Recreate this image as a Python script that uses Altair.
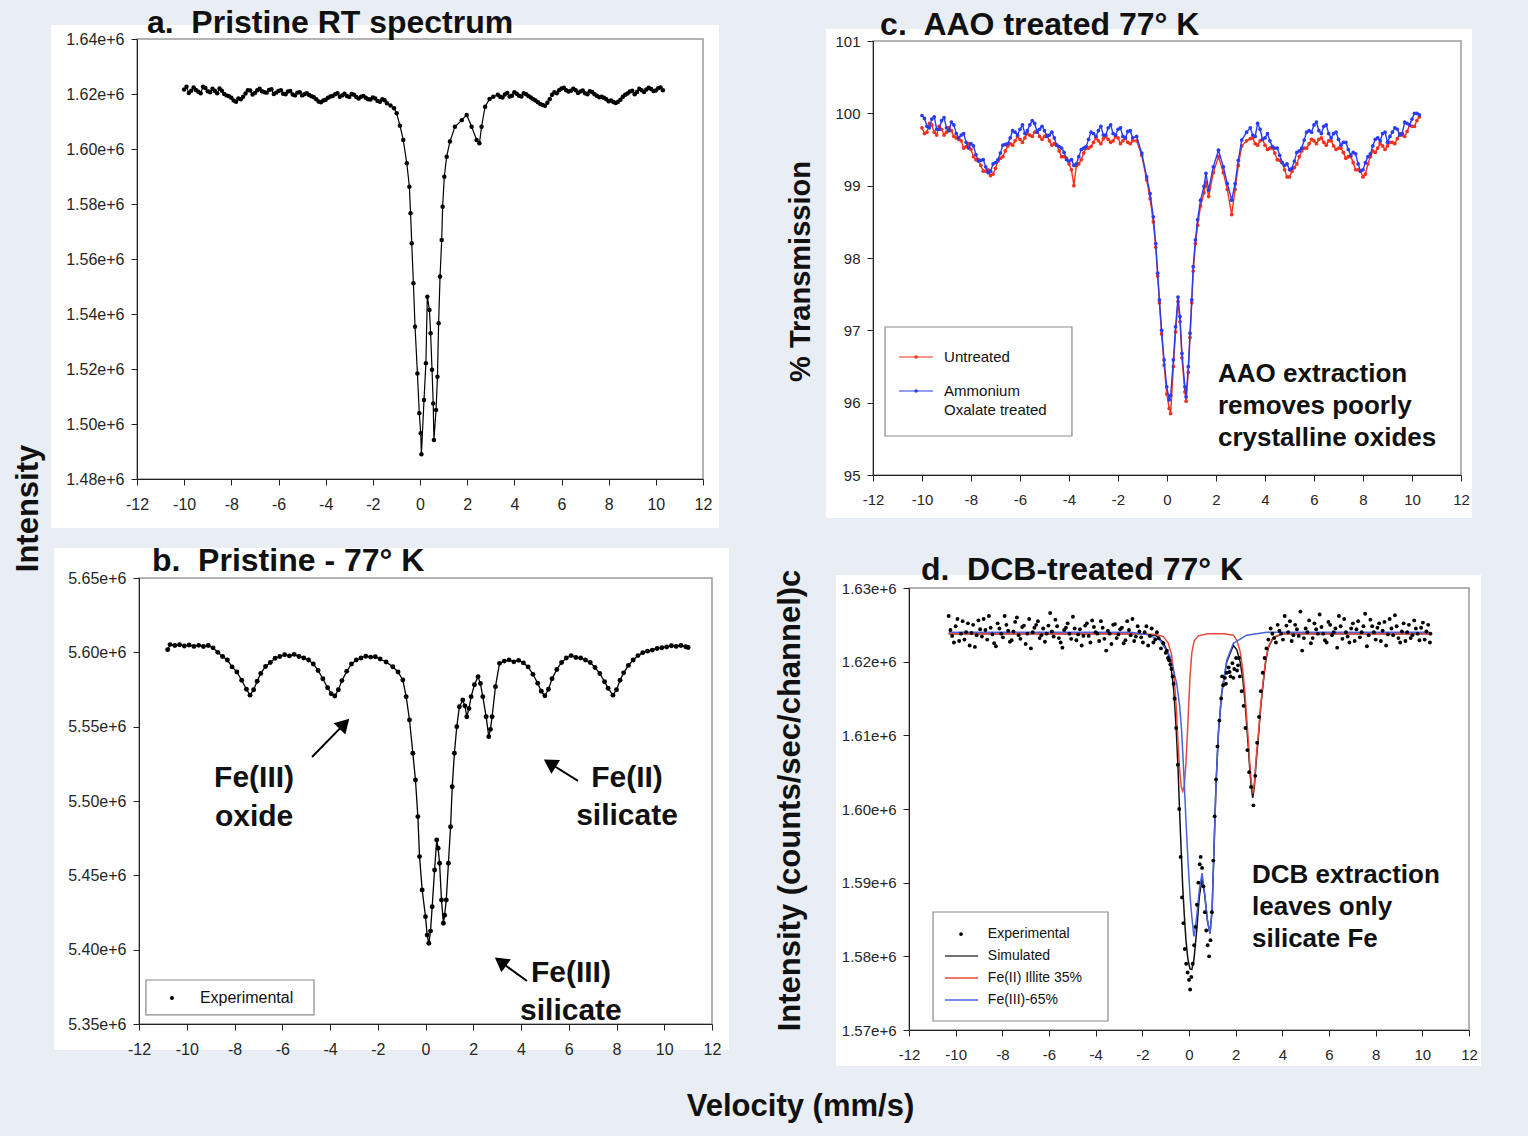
import altair as alt
import pandas as pd

FONT = "Liberation Sans"
BG = "#e9eef5"
CW, CH = 764, 568
TICKS_V = [-12, -10, -8, -6, -4, -2, 0, 2, 4, 6, 8, 10, 12]

# ---------------- data (velocity mm/s, intensity in 1e6 counts) ----------------
A_PTS = [(-10.0,1.6216),(-9.8,1.6204),(-9.6,1.6224),(-9.4,1.6208),(-9.2,1.6226),(-9.0,1.6210),(-8.8,1.6219),
         (-8.6,1.6203),(-8.4,1.6212),(-8.2,1.6195),(-8.0,1.6186),(-7.8,1.6172),(-7.6,1.6181),(-7.4,1.6202),
         (-7.2,1.6213),(-7.0,1.6204),(-6.8,1.6219),(-6.6,1.6206),(-6.4,1.6215),(-6.2,1.6200),(-6.0,1.6211),
         (-5.8,1.6201),(-5.6,1.6209),(-5.4,1.6198),(-5.2,1.6205),(-5.0,1.6195),(-4.8,1.6203),(-4.6,1.6192),
         (-4.4,1.6181),(-4.2,1.6170),(-4.0,1.6179),(-3.8,1.6191),(-3.6,1.6199),(-3.4,1.6190),(-3.2,1.6201),
         (-3.0,1.6189),(-2.8,1.6197),(-2.6,1.6184),(-2.4,1.6193),(-2.2,1.6181),(-2.0,1.6187),(-1.8,1.6175),
         (-1.6,1.6181),(-1.4,1.6166),(-1.25,1.6158),(-1.1,1.6148),(-0.99,1.6130),(-0.85,1.6085),(-0.71,1.6033),
         (-0.56,1.5948),(-0.45,1.5863),(-0.40,1.5766),(-0.35,1.5657),(-0.28,1.5512),(-0.21,1.5354),(-0.11,1.5184),
         (-0.03,1.5039),(0.03,1.4966),(0.06,1.4890),(0.17,1.5087),(0.25,1.5221),(0.31,1.5463),(0.40,1.5415),
         (0.45,1.5330),(0.51,1.5197),(0.56,1.5075),(0.59,1.4942),(0.68,1.5051),(0.74,1.5172),(0.79,1.5366),
         (0.85,1.5536),(0.92,1.5669),(0.96,1.5790),(1.03,1.5899),(1.13,1.5972),(1.27,1.6027),(1.48,1.6081),
         (1.77,1.6105),(1.98,1.6124),(2.19,1.6081),(2.40,1.6033),(2.52,1.6021),(2.61,1.6081),(2.76,1.6154),
         (2.95,1.6182),(3.11,1.6190),(3.3,1.6197),(3.5,1.6187),(3.7,1.6204),(3.9,1.6194),(4.1,1.6201),
         (4.3,1.6191),(4.5,1.6199),(4.7,1.6187),(4.9,1.6176),(5.1,1.6164),(5.3,1.6157),(5.5,1.6181),
         (5.7,1.6206),(5.9,1.6214),(6.1,1.6223),(6.3,1.6209),(6.5,1.6219),(6.7,1.6204),(6.9,1.6213),
         (7.1,1.6199),(7.3,1.6207),(7.5,1.6194),(7.7,1.6190),(7.9,1.6181),(8.1,1.6176),(8.3,1.6167),
         (8.5,1.6179),(8.7,1.6197),(8.9,1.6209),(9.1,1.6199),(9.3,1.6219),(9.5,1.6207),(9.7,1.6223),
         (9.9,1.6211),(10.1,1.6221),(10.3,1.6214)]
A_PTS_EXTRA = [(-9.9,1.6226),(-9.7,1.6212),(-9.5,1.6215),(-9.3,1.6203),(-9.1,1.6222),(-8.9,1.6206),(-8.7,1.6212),
               (-8.5,1.6220),(-8.3,1.6200),(-8.1,1.6192),(-7.9,1.6176),(-7.7,1.6184),(-7.5,1.6190),(-7.3,1.6214),
               (-7.1,1.6198),(-6.9,1.6214),(-6.7,1.6210),(-6.5,1.6205),(-6.3,1.6217),(-6.1,1.6205),(-5.9,1.6214),
               (-5.7,1.6199),(-5.5,1.6211),(-5.3,1.6195),(-5.1,1.6206),(-4.9,1.6199),(-4.7,1.6196),(-4.5,1.6188),
               (-4.3,1.6173),(-4.1,1.6176),(-3.9,1.6186),(-3.7,1.6193),(-3.5,1.6203),(-3.3,1.6195),(-3.1,1.6193),
               (-2.9,1.6200),(-2.7,1.6189),(-2.5,1.6190),(-2.3,1.6186),(-2.1,1.6180),(-1.9,1.6184),(-1.7,1.6172),
               (-1.5,1.6177),(3.4,1.6190),(3.6,1.6198),(3.8,1.6191),(4.0,1.6206),(4.2,1.6194),(4.4,1.6203),
               (4.6,1.6193),(4.8,1.6181),(5.0,1.6170),(5.2,1.6160),(5.4,1.6168),(5.6,1.6197),(5.8,1.6203),
               (6.0,1.6220),(6.2,1.6214),(6.4,1.6212),(6.6,1.6214),(6.8,1.6209),(7.0,1.6203),(7.2,1.6210),
               (7.4,1.6199),(7.6,1.6188),(7.8,1.6186),(8.0,1.6174),(8.2,1.6171),(8.4,1.6172),(8.6,1.6190),
               (8.8,1.6202),(9.0,1.6212),(9.2,1.6207),(9.4,1.6214),(9.6,1.6216),(9.8,1.6218),(10.0,1.6213),
               (10.2,1.6224)]

B_PTS = [(-10.8,5.6018),(-10.7,5.6052),(-10.5,5.6046),(-10.3,5.6051),(-10.1,5.6043),(-9.9,5.6049),(-9.7,5.6040),
         (-9.5,5.6047),(-9.3,5.6039),(-9.1,5.6046),(-8.9,5.6030),(-8.7,5.6000),(-8.5,5.5972),(-8.3,5.5948),
         (-8.1,5.5902),(-7.9,5.5868),(-7.7,5.5812),(-7.5,5.5752),(-7.35,5.5712),(-7.2,5.5748),(-7.05,5.5805),
         (-6.9,5.5858),(-6.7,5.5905),(-6.5,5.5932),(-6.3,5.5960),(-6.1,5.5972),(-5.9,5.5984),(-5.7,5.5976),
         (-5.5,5.5986),(-5.3,5.5972),(-5.1,5.5962),(-4.9,5.5948),(-4.7,5.5922),(-4.5,5.5878),(-4.3,5.5822),
         (-4.1,5.5762),(-3.95,5.5722),(-3.8,5.5706),(-3.65,5.5748),(-3.5,5.5810),(-3.3,5.5872),(-3.1,5.5922),
         (-2.9,5.5948),(-2.7,5.5962),(-2.5,5.5974),(-2.3,5.5968),(-2.1,5.5970),(-1.9,5.5955),(-1.65,5.5935),
         (-1.37,5.5903),(-1.15,5.5868),(-0.95,5.5814),(-0.81,5.5702),(-0.67,5.5545),(-0.53,5.5321),(-0.42,5.5141),
         (-0.32,5.4895),(-0.25,5.4626),(-0.14,5.4402),(0.0,5.4222),(0.07,5.4098),(0.14,5.4043),(0.21,5.4125),
         (0.28,5.4289),(0.38,5.4536),(0.47,5.4738),(0.53,5.4682),(0.59,5.4581),(0.67,5.4334),(0.75,5.4178),
         (0.80,5.4232),(0.87,5.4334),(0.96,5.4581),(1.05,5.4827),(1.12,5.5096),(1.21,5.5321),(1.31,5.5500),
         (1.42,5.5634),(1.56,5.5679),(1.65,5.5640),(1.73,5.5567),(1.82,5.5622),(1.91,5.5702),(2.05,5.5782),
         (2.20,5.5836),(2.30,5.5790),(2.40,5.5702),(2.54,5.5567),(2.65,5.5433),(2.72,5.5482),(2.79,5.5567),
         (2.93,5.5769),(3.10,5.5926),(3.3,5.5941),(3.5,5.5949),(3.7,5.5936),(3.9,5.5946),(4.1,5.5929),
         (4.3,5.5902),(4.5,5.5852),(4.7,5.5792),(4.85,5.5738),(5.0,5.5708),(5.15,5.5752),(5.3,5.5822),
         (5.5,5.5885),(5.7,5.5932),(5.9,5.5962),(6.1,5.5978),(6.3,5.5965),(6.5,5.5962),(6.7,5.5948),
         (6.9,5.5932),(7.1,5.5898),(7.3,5.5858),(7.5,5.5802),(7.65,5.5758),(7.85,5.5712),(8.0,5.5748),
         (8.15,5.5812),(8.3,5.5862),(8.5,5.5912),(8.7,5.5948),(8.9,5.5978),(9.1,5.5998),(9.3,5.6008),
         (9.5,5.6015),(9.7,5.6026),(9.9,5.6031),(10.1,5.6036),(10.3,5.6044),(10.5,5.6040),(10.7,5.6046),
         (10.9,5.6038),(11.0,5.6033)]

C_V = [-10.0,-9.8,-9.6,-9.4,-9.2,-9.0,-8.8,-8.6,-8.4,-8.2,-8.0,-7.8,-7.6,-7.4,-7.2,-7.0,-6.8,-6.6,-6.4,-6.2,
       -6.0,-5.8,-5.6,-5.4,-5.2,-5.0,-4.8,-4.6,-4.4,-4.2,-4.0,-3.8,-3.6,-3.4,-3.2,-3.0,-2.8,-2.6,-2.4,-2.2,
       -2.0,-1.8,-1.6,-1.4,-1.24,-1.03,-0.83,-0.69,-0.56,-0.46,-0.38,-0.31,-0.22,-0.12,-0.01,0.09,0.15,0.26,
       0.35,0.45,0.53,0.61,0.73,0.78,0.87,0.94,1.01,1.07,1.16,1.25,1.37,1.51,1.59,1.70,1.89,2.10,2.30,2.46,
       2.64,2.78,2.91,3.05,3.25,3.4,3.6,3.8,4.0,4.2,4.4,4.6,4.8,5.0,5.2,5.4,5.6,5.8,6.0,6.2,6.4,6.6,6.8,
       7.0,7.2,7.4,7.6,7.8,8.0,8.2,8.4,8.6,8.8,9.0,9.2,9.4,9.6,9.8,10.0,10.2,10.3,
       -9.9,-9.7,-9.5,-9.3,-9.1,-8.9,-8.7,-8.5,-8.3,-8.1,-7.9,-7.7,-7.5,-7.3,-7.1,-6.9,-6.7,-6.5,-6.3,-6.1,
       -5.9,-5.7,-5.5,-5.3,-5.1,-4.9,-4.7,-4.5,-4.3,-4.1,-3.9,-3.7,-3.5,-3.3,-3.1,-2.9,-2.7,-2.5,-2.3,-2.1,
       -1.9,-1.7,-1.5,3.5,3.7,3.9,4.1,4.3,4.5,4.7,4.9,5.1,5.3,5.5,5.7,5.9,6.1,6.3,6.5,6.7,6.9,7.1,7.3,7.5,
       7.7,7.9,8.1,8.3,8.5,8.7,8.9,9.1,9.3,9.5,9.7,9.9,10.1]
C_OXALATE = [99.97,99.82,99.92,99.78,99.90,99.80,99.88,99.72,99.70,99.60,99.58,99.43,99.35,99.26,99.20,99.32,
             99.45,99.57,99.66,99.74,99.78,99.72,99.84,99.86,99.78,99.76,99.70,99.66,99.54,99.46,99.34,99.28,
             99.40,99.52,99.64,99.72,99.76,99.70,99.80,99.72,99.78,99.68,99.75,99.66,99.68,99.45,99.12,98.89,
             98.57,98.20,97.79,97.42,97.00,96.59,96.22,96.04,96.10,96.59,97.05,97.46,97.19,96.68,96.22,96.08,
             96.50,96.96,97.42,97.88,98.25,98.53,98.80,98.99,99.17,98.94,99.26,99.49,99.26,99.03,98.80,99.03,
             99.35,99.63,99.74,99.80,99.68,99.78,99.66,99.62,99.52,99.42,99.28,99.22,99.34,99.48,99.63,99.76,
             99.84,99.76,99.82,99.72,99.72,99.64,99.60,99.50,99.46,99.30,99.22,99.40,99.55,99.66,99.72,99.60,
             99.74,99.78,99.72,99.86,99.92,100.00,99.98,
             99.93,99.80,99.95,99.78,99.94,99.76,99.84,99.66,99.72,99.52,99.55,99.34,99.36,99.18,99.30,99.36,
             99.56,99.58,99.76,99.70,99.84,99.76,99.90,99.74,99.82,99.68,99.74,99.56,99.52,99.36,99.36,99.30,
             99.50,99.54,99.74,99.68,99.82,99.70,99.84,99.70,99.80,99.66,99.76,99.70,99.86,99.64,99.72,99.54,
             99.52,99.32,99.30,99.24,99.46,99.52,99.74,99.74,99.88,99.72,99.84,99.66,99.74,99.56,99.60,99.42,
             99.44,99.20,99.32,99.44,99.64,99.62,99.74,99.68,99.80,99.70,99.88,99.84,100.00]
C_UNTREATED = [99.80,99.74,99.84,99.70,99.78,99.74,99.76,99.66,99.62,99.54,99.50,99.36,99.28,99.20,99.14,99.24,
               99.38,99.48,99.58,99.62,99.64,99.66,99.70,99.74,99.68,99.68,99.62,99.58,99.48,99.40,99.30,99.00,
               99.30,99.45,99.52,99.60,99.62,99.65,99.64,99.62,99.66,99.62,99.60,99.62,99.62,99.42,99.08,98.82,
               98.50,98.15,97.75,97.38,96.95,96.52,96.12,95.92,95.85,96.50,96.98,97.40,97.12,96.62,96.15,96.02,
               96.42,96.90,97.38,97.82,98.20,98.45,98.72,98.90,99.05,98.85,99.18,99.40,99.18,98.95,98.60,98.95,
               99.28,99.55,99.62,99.65,99.58,99.62,99.56,99.52,99.45,99.35,99.22,99.12,99.25,99.40,99.52,99.58,
               99.62,99.64,99.60,99.62,99.55,99.52,99.46,99.40,99.32,99.22,99.12,99.30,99.48,99.52,99.55,99.55,
               99.60,99.65,99.70,99.75,99.82,99.90,99.95,
               99.72,99.86,99.74,99.82,99.70,99.80,99.68,99.64,99.52,99.58,99.40,99.36,99.20,99.22,99.16,99.34,
               99.40,99.55,99.56,99.68,99.60,99.72,99.68,99.76,99.64,99.70,99.56,99.56,99.40,99.38,99.22,99.28,
               99.36,99.52,99.54,99.66,99.58,99.68,99.60,99.68,99.58,99.66,99.58,99.66,99.56,99.64,99.50,99.52,
               99.36,99.32,99.12,99.20,99.30,99.48,99.52,99.64,99.58,99.66,99.56,99.62,99.50,99.52,99.38,99.40,
               99.22,99.20,99.16,99.40,99.46,99.58,99.50,99.60,99.58,99.72,99.68,99.84,99.82]

D_EXP = [(-10.30,1.6262),(-10.15,1.6235),(-10.00,1.6248),(-9.85,1.6228),(-9.70,1.6255),(-9.55,1.6240),(-9.40,1.6222),
         (-9.25,1.6250),(-9.10,1.6236),(-8.95,1.6244),(-8.80,1.6258),(-8.65,1.6230),(-8.50,1.6246),(-8.35,1.6225),
         (-8.20,1.6252),(-8.05,1.6238),(-7.90,1.6262),(-7.75,1.6242),(-7.60,1.6229),(-7.45,1.6254),(-7.30,1.6236),
         (-7.15,1.6247),(-7.00,1.6224),(-6.85,1.6258),(-6.70,1.6240),(-6.55,1.6250),(-6.40,1.6232),(-6.25,1.6245),
         (-6.10,1.6238),(-5.95,1.6266),(-5.80,1.6234),(-5.65,1.6248),(-5.50,1.6226),(-5.35,1.6243),(-5.20,1.6252),
         (-5.05,1.6231),(-4.90,1.6245),(-4.75,1.6237),(-4.60,1.6222),(-4.45,1.6249),(-4.30,1.6235),(-4.15,1.6256),
         (-4.00,1.6240),(-3.85,1.6228),(-3.70,1.6246),(-3.55,1.6215),(-3.40,1.6238),(-3.25,1.6250),(-3.10,1.6232),
         (-2.95,1.6244),(-2.80,1.6225),(-2.65,1.6255),(-2.50,1.6236),(-2.35,1.6228),(-2.20,1.6248),(-2.05,1.6233),
         (-1.90,1.6240),(-1.75,1.6222),(-1.60,1.6245),(-1.45,1.6230),(-1.3,1.6232),(-1.2,1.6218),(-1.1,1.6225),
         (-1.0,1.6212),(-0.9,1.6205),(-0.8,1.6196),(-0.7,1.6180),(-0.62,1.6150),(-0.55,1.6110),(-0.48,1.6060),
         (-0.42,1.6000),(-0.36,1.5935),(-0.30,1.5880),(-0.24,1.5845),(-0.18,1.5810),(-0.12,1.5790),(-0.06,1.5778),
         (0.0,1.5768),(0.05,1.5755),(0.10,1.5772),(0.16,1.5790),(0.22,1.5815),(0.28,1.5840),(0.34,1.5870),
         (0.40,1.5900),(0.46,1.5925),(0.50,1.5935),(0.56,1.5920),(0.62,1.5895),(0.68,1.5860),(0.74,1.5835),
         (0.80,1.5815),(0.86,1.5800),(0.92,1.5822),(0.98,1.5860),(1.04,1.5930),(1.10,1.5990),(1.16,1.6040),
         (1.22,1.6085),(1.30,1.6120),(1.38,1.6150),(1.46,1.6168),(1.54,1.6178),(1.62,1.6185),(1.70,1.6192),
         (1.78,1.6180),(1.86,1.6198),(1.94,1.6190),(2.02,1.6205),(2.10,1.6195),(2.18,1.6180),(2.26,1.6160),
         (2.34,1.6140),(2.42,1.6110),(2.50,1.6080),(2.58,1.6050),(2.66,1.6030),(2.76,1.6005),(2.84,1.6045),
         (2.92,1.6090),(3.00,1.6125),(3.08,1.6160),(3.16,1.6185),(3.24,1.6205),(3.32,1.6218),(3.40,1.6230),
         (3.5,1.6245),(3.65,1.6232),(3.80,1.6250),(3.95,1.6238),(4.10,1.6262),(4.25,1.6240),(4.40,1.6228),
         (4.55,1.6250),(4.70,1.6235),(4.85,1.6215),(5.00,1.6245),(5.15,1.6256),(5.30,1.6232),(5.45,1.6244),
         (5.60,1.6264),(5.75,1.6238),(5.90,1.6226),(6.05,1.6250),(6.20,1.6240),(6.35,1.6219),(6.50,1.6248),
         (6.65,1.6258),(6.80,1.6234),(6.95,1.6245),(7.10,1.6228),(7.25,1.6255),(7.40,1.6240),(7.55,1.6265),
         (7.70,1.6236),(7.85,1.6248),(8.00,1.6230),(8.15,1.6252),(8.30,1.6242),(8.45,1.6222),(8.60,1.6258),
         (8.75,1.6236),(8.90,1.6248),(9.05,1.6226),(9.20,1.6252),(9.35,1.6240),(9.50,1.6232),(9.65,1.6256),
         (9.80,1.6238),(9.95,1.6246),(10.10,1.6230),(10.25,1.6250),(10.35,1.6238)]
D_EXP_EXTRA = [(-10.225,1.6243),(-10.075,1.6226),(-9.925,1.6258),(-9.775,1.6238),(-9.625,1.6230),(-9.475,1.6252),
               (-9.325,1.6239),(-9.175,1.6220),(-9.025,1.6256),(-8.875,1.6234),(-8.725,1.6243),(-8.575,1.6262),
               (-8.425,1.6237),(-8.275,1.6221),(-8.125,1.6245),(-7.975,1.6233),(-7.825,1.6250),(-7.675,1.6227),
               (-7.525,1.6241),(-7.375,1.6260),(-7.225,1.6231),(-7.075,1.6249),(-6.925,1.6238),(-6.775,1.6218),
               (-6.625,1.6246),(-6.475,1.6255),(-6.325,1.6236),(-6.175,1.6227),(-6.025,1.6249),(-5.875,1.6241),
               (-5.725,1.6257),(-5.575,1.6232),(-5.425,1.6219),(-5.275,1.6246),(-5.125,1.6238),(-4.975,1.6261),
               (-4.825,1.6229),(-4.675,1.6244),(-4.525,1.6235),(-4.375,1.6252),(-4.225,1.6226),(-4.075,1.6247),
               (-3.925,1.6238),(-3.775,1.6255),(-3.625,1.6231),(-3.475,1.6242),(-3.325,1.6224),(-3.175,1.6251),
               (-3.025,1.6237),(-2.875,1.6246),(-2.725,1.6229),(-2.575,1.6243),(-2.425,1.6258),(-2.275,1.6234),
               (-2.125,1.6241),(-1.975,1.6226),(-1.825,1.6248),(-1.675,1.6235),(-1.525,1.6226),(-1.375,1.6240),
               (-0.95,1.6215),(-0.85,1.6202),(-0.75,1.6190),(-0.66,1.6170),(1.42,1.6180),(1.58,1.6170),
               (1.74,1.6186),(1.90,1.6178),(2.06,1.6188),(2.14,1.6205),
               (3.575,1.6238),(3.725,1.6226),(3.875,1.6242),(4.025,1.6230),(4.175,1.6249),(4.325,1.6255),
               (4.475,1.6236),(4.625,1.6244),(4.775,1.6268),(4.925,1.6232),(5.075,1.6240),(5.225,1.6225),
               (5.375,1.6252),(5.525,1.6238),(5.675,1.6247),(5.825,1.6229),(5.975,1.6254),(6.125,1.6236),
               (6.275,1.6245),(6.425,1.6262),(6.575,1.6231),(6.725,1.6240),(6.875,1.6226),(7.025,1.6252),
               (7.175,1.6244),(7.325,1.6233),(7.475,1.6248),(7.625,1.6221),(7.775,1.6257),(7.925,1.6240),
               (8.075,1.6246),(8.225,1.6228),(8.375,1.6254),(8.525,1.6237),(8.675,1.6245),(8.825,1.6263),
               (8.975,1.6232),(9.125,1.6241),(9.275,1.6228),(9.425,1.6250),(9.575,1.6236),(9.725,1.6245),
               (9.875,1.6229),(10.025,1.6253),(10.175,1.6241),(10.325,1.6226)]
D_SIM = [(-10.3,1.6238),(-2.0,1.6238),(-1.4,1.6235),(-1.1,1.6226),(-0.9,1.6212),(-0.75,1.6188),(-0.65,1.6160),
         (-0.55,1.6110),(-0.47,1.6055),(-0.40,1.5995),(-0.33,1.5940),(-0.27,1.5895),(-0.20,1.5855),(-0.13,1.5822),
         (-0.05,1.5797),(0.04,1.5783),(0.12,1.5782),(0.21,1.5795),(0.33,1.5835),(0.44,1.5880),(0.56,1.5906),
         (0.67,1.5884),(0.79,1.5848),(0.90,1.5831),(0.99,1.5863),(1.07,1.5944),(1.16,1.6035),(1.26,1.6103),
         (1.40,1.6157),(1.62,1.6200),(1.90,1.6222),(2.05,1.6216),(2.19,1.6200),(2.30,1.6178),(2.40,1.6146),
         (2.48,1.6110),(2.54,1.6085),(2.60,1.6056),(2.66,1.6033),(2.73,1.6015),(2.80,1.6030),(2.88,1.6065),
         (2.97,1.6096),(3.07,1.6137),(3.18,1.6171),(3.29,1.6201),(3.40,1.6219),(3.6,1.6232),(4.0,1.6238),
         (10.3,1.6238)]
D_FE2 = [(-10.3,1.6238),(-2.0,1.6238),(-1.4,1.6237),(-1.1,1.6234),(-0.9,1.6226),(-0.75,1.6210),(-0.65,1.6185),
         (-0.55,1.6140),(-0.47,1.6090),(-0.40,1.6052),(-0.33,1.6030),(-0.27,1.6024),(-0.20,1.6032),(-0.13,1.6062),
         (-0.05,1.6115),(0.04,1.6178),(0.12,1.6212),(0.22,1.6228),(0.4,1.6235),(0.8,1.6238),(1.5,1.6238),
         (1.9,1.6236),(2.05,1.6229),(2.19,1.6214),(2.30,1.6190),(2.40,1.6157),(2.48,1.6120),(2.54,1.6094),
         (2.60,1.6064),(2.66,1.6040),(2.73,1.6021),(2.80,1.6035),(2.88,1.6070),(2.97,1.6100),(3.07,1.6140),
         (3.18,1.6174),(3.29,1.6203),(3.40,1.6220),(3.6,1.6233),(4.0,1.6238),(10.3,1.6238)]
D_FE3 = [(-10.3,1.6240),(-2.5,1.6240),(-1.8,1.6237),(-1.24,1.6229),(-0.81,1.6207),(-0.53,1.6171),(-0.40,1.6140),
         (-0.31,1.6103),(-0.24,1.6060),(-0.17,1.6012),(-0.10,1.5965),(-0.03,1.5922),(0.05,1.5880),(0.12,1.5854),
         (0.21,1.5827),(0.27,1.5838),(0.33,1.5854),(0.44,1.5890),(0.56,1.5913),(0.67,1.5886),(0.79,1.5849),
         (0.90,1.5831),(0.99,1.5863),(1.07,1.5944),(1.16,1.6035),(1.26,1.6103),(1.40,1.6157),(1.62,1.6202),
         (1.90,1.6225),(2.47,1.6236),(3.33,1.6240),(10.3,1.6240)]

# panel titles / annotations (positions in data units of each panel)
TITLES = {"a": ("a.\u00a0 Pristine RT spectrum", -11.58, 1.6458),
          "b": ("b.\u00a0 Pristine - 77\u00b0 K", -11.46, 5.6614),
          "c": ("c.\u00a0 AAO treated 77\u00b0 K", -11.71, 101.221),
          "d": ("d.\u00a0 DCB-treated 77\u00b0 K", -11.49, 1.63244)}
B_NOTE_T = ["Fe(III)", "oxide", "Fe(II)", "silicate", "Fe(III)", "silicate"]
B_NOTE_V = [-7.18, -7.18, 8.44, 8.44, 6.09, 6.09]
B_NOTE_Y = [5.5155, 5.4893, 5.5155, 5.4899, 5.3843, 5.3587]
B_ARROW_V = [-4.754, 6.387, 4.251]
B_ARROW_Y = [5.5296, 5.5135, 5.3789]
B_HEAD_V = [-3.397, 5.206, 3.141]
B_HEAD_Y = [5.5519, 5.5254, 5.3919]
B_HEAD_ANG = [44, 302, 306]
C_NOTE_T = ["AAO extraction", "removes poorly", "crystalline oxides"]
C_NOTE_Y = [96.396, 95.954, 95.511]
D_NOTE_T = ["DCB extraction", "leaves only", "silicate Fe"]
D_NOTE_Y = [1.59104, 1.58670, 1.58235]

# ---------------- layout (pixels within each 764x568 cell) ----------------
LAY = {
    "a": dict(x0=137, x1=703, yt=39, yb=479, box=(51, 25, 719, 528)),
    "c": dict(x0=109, x1=697, yt=41, yb=475, box=(62, 29, 708, 518)),
    "b": dict(x0=139, x1=712, yt=10, yb=456, box=(54, -20, 729, 482)),
    "d": dict(x0=145, x1=705, yt=20, yb=462, box=(72, 7, 717, 498)),
}


def encs(key, ydom, yticks, ylab, lsize, ytitle=None, xtitle=None, ytsize=31):
    L = LAY[key]
    common = dict(grid=False, domainColor="#222", domainWidth=1, tickColor="#222", tickSize=6, tickWidth=1,
                  labelFont=FONT, labelFontSize=lsize, labelColor="#262626", labelFlush=False,
                  labelOverlap=False, zindex=1, titleFont=FONT, titleFontWeight="bold",
                  titleColor="#111", titleAlign="center", titleBaseline="middle")
    xkw = dict(common, values=TICKS_V, labelExpr="'' + datum.value", orient="bottom",
               offset=L["yb"] - CH, labelPadding=11)
    if xtitle:
        xkw.update(title=xtitle[0], titleX=xtitle[1], titleY=xtitle[2], titleAngle=0, titleFontSize=31)
    else:
        xkw["title"] = None
    ykw = dict(common, values=yticks, labelExpr=ylab, orient="left", offset=-L["x0"], labelPadding=7)
    if ytitle:
        ykw.update(title=ytitle[0], titleX=ytitle[1], titleY=ytitle[2], titleAngle=270, titleFontSize=ytsize)
    else:
        ykw["title"] = None
    xs = alt.Scale(domain=[-12, 12], range=[L["x0"], L["x1"]], nice=False, zero=False)
    ys = alt.Scale(domain=ydom, range=[L["yb"], L["yt"]], nice=False, zero=False)
    return (alt.X("v:Q", scale=xs, axis=alt.Axis(**xkw)),
            alt.Y("y:Q", scale=ys, axis=alt.Axis(**ykw)))


def box_layer(key):
    x0, y0, x1, y1 = LAY[key]["box"]
    return alt.Chart(alt.Data(values=[{}])).mark_rect(fill="white").encode(
        x=alt.value(x0), x2=alt.value(x1), y=alt.value(y0), y2=alt.value(y1))


def rect_layer(X, Y, v1, v2, y1, y2, fill_op=0.0, stroke="#9a9a9a", sw=1.5, fill="white"):
    df = pd.DataFrame({"v": [v1], "v2": [v2], "y": [y1], "y2": [y2]})
    return alt.Chart(df).mark_rect(fill=fill, fillOpacity=fill_op, stroke=stroke, strokeWidth=sw).encode(
        x=X, x2="v2", y=Y, y2="y2")


def text_layer(X, Y, v, y, t, size, weight="bold", align="left"):
    df = pd.DataFrame({"v": v, "y": y, "t": t})
    return alt.Chart(df).mark_text(font=FONT, fontSize=size, fontWeight=weight, align=align,
                                   baseline="middle", color="#111").encode(x=X, y=Y, text="t:N")


def pts_df(pts):
    pts = sorted(pts)
    return pd.DataFrame({"v": [p[0] for p in pts], "y": [p[1] for p in pts]})


def line_pts(X, Y, df, color, sw=1.0, size=16):
    ln = alt.Chart(df).mark_line(color=color, strokeWidth=sw).encode(x=X, y=Y)
    pt = alt.Chart(df).mark_circle(color=color, size=size, opacity=1).encode(x=X, y=Y)
    return [ln, pt]


def seg_layer(X, Y, v1, v2, y, color, sw=1.5):
    df = pd.DataFrame({"v": [v1], "v2": [v2], "y": [y]})
    return alt.Chart(df).mark_rule(color=color, strokeWidth=sw).encode(x=X, x2="v2", y=Y)


def dot_layer(X, Y, v, y, color, size=16):
    df = pd.DataFrame({"v": [v], "y": [y]})
    return alt.Chart(df).mark_circle(color=color, size=size, opacity=1).encode(x=X, y=Y)


e6 = "format(datum.value, '.2f') + 'e+6'"

# ---------------- panel a ----------------
ydA = [1.48, 1.64]
Xa, Ya = encs("a", ydA, [1.48, 1.50, 1.52, 1.54, 1.56, 1.58, 1.60, 1.62, 1.64], e6, 16,
              ytitle=("Intensity", 28 - 137, 508))
pa = alt.layer(
    box_layer("a"),
    rect_layer(Xa, Ya, -12, 12, ydA[0], ydA[1]),
    *line_pts(Xa, Ya, pts_df(A_PTS + A_PTS_EXTRA), "black", 1.2, 20),
    text_layer(Xa, Ya, [TITLES["a"][1]], [TITLES["a"][2]], [TITLES["a"][0]], 32),
).properties(width=CW, height=CH)

# ---------------- panel b ----------------
ydB = [5.35, 5.65]
Xb, Yb = encs("b", ydB, [5.35, 5.40, 5.45, 5.50, 5.55, 5.60, 5.65], e6, 16)
arrows = pd.DataFrame({"v": B_ARROW_V, "y": B_ARROW_Y, "v2": B_HEAD_V, "y2": B_HEAD_Y})
heads = pd.DataFrame({"v": B_HEAD_V, "y": B_HEAD_Y, "ang": B_HEAD_ANG})
pb = alt.layer(
    box_layer("b"),
    rect_layer(Xb, Yb, -12, 12, ydB[0], ydB[1]),
    *line_pts(Xb, Yb, pts_df(B_PTS), "black", 1.3, 24),
    alt.Chart(arrows).mark_rule(color="black", strokeWidth=2).encode(x=Xb, y=Yb, x2="v2", y2="y2"),
    alt.Chart(heads).mark_point(shape="triangle-up", filled=True, size=260, color="black", opacity=1).encode(
        x=Xb, y=Yb, angle=alt.Angle("ang:Q", scale=None)),
    text_layer(Xb, Yb, B_NOTE_V, B_NOTE_Y, B_NOTE_T, 30, align="center"),
    rect_layer(Xb, Yb, -11.71, -4.67, 5.3796, 5.3561, fill_op=1.0, stroke="#8a8a8a", sw=1.2),
    dot_layer(Xb, Yb, -10.62, 5.3675, "black", 16),
    text_layer(Xb, Yb, [-9.45], [5.3675], ["Experimental"], 16, weight="normal"),
    text_layer(Xb, Yb, [TITLES["b"][1]], [TITLES["b"][2]], [TITLES["b"][0]], 32),
).properties(width=CW, height=CH)

# ---------------- panel c ----------------
ydC = [95, 101]
Xc, Yc = encs("c", ydC, [95, 96, 97, 98, 99, 100, 101], "'' + datum.value", 15,
              ytitle=("% Transmission", 36 - 109, 271), ytsize=29)
RED_C, BLUE_C = "#f0321e", "#2a3cf0"
dfc_r = pd.DataFrame({"v": C_V, "y": C_UNTREATED}).sort_values("v")
dfc_b = pd.DataFrame({"v": C_V, "y": C_OXALATE}).sort_values("v")
pc = alt.layer(
    box_layer("c"),
    rect_layer(Xc, Yc, -12, 12, ydC[0], ydC[1]),
    *line_pts(Xc, Yc, dfc_r, RED_C, 1.4, 14),
    *line_pts(Xc, Yc, dfc_b, BLUE_C, 1.4, 14),
    rect_layer(Xc, Yc, -11.51, -3.88, 97.046, 95.539, fill_op=1.0, stroke="#8a8a8a", sw=1.2),
    seg_layer(Xc, Yc, -10.94, -9.55, 96.631, RED_C, 1.2),
    dot_layer(Xc, Yc, -10.24, 96.631, RED_C, 12),
    seg_layer(Xc, Yc, -10.94, -9.55, 96.161, BLUE_C, 1.2),
    dot_layer(Xc, Yc, -10.24, 96.161, BLUE_C, 12),
    text_layer(Xc, Yc, [-9.10, -9.10, -9.10], [96.631, 96.161, 95.898],
               ["Untreated", "Ammonium", "Oxalate treated"], 15, weight="normal"),
    text_layer(Xc, Yc, [2.08, 2.08, 2.08], C_NOTE_Y, C_NOTE_T, 26),
    text_layer(Xc, Yc, [TITLES["c"][1]], [TITLES["c"][2]], [TITLES["c"][0]], 32),
).properties(width=CW, height=CH)

# ---------------- panel d ----------------
ydD = [1.57, 1.63]
Xd, Yd = encs("d", ydD, [1.57, 1.58, 1.59, 1.60, 1.61, 1.62, 1.63], e6, 15,
              ytitle=("Intensity (counts/sec/channel)c", 26 - 145, 232),
              xtitle=("Velocity (mm/s)", 36, 76))
RED_D, BLUE_D = "#e8493c", "#4a62e0"
pd_ = alt.layer(
    box_layer("d"),
    rect_layer(Xd, Yd, -12, 12, ydD[0], ydD[1]),
    alt.Chart(pts_df(D_SIM)).mark_line(color="#111", strokeWidth=1.5).encode(x=Xd, y=Yd),
    alt.Chart(pts_df(D_FE2)).mark_line(color=RED_D, strokeWidth=1.5).encode(x=Xd, y=Yd),
    alt.Chart(pts_df(D_FE3)).mark_line(color=BLUE_D, strokeWidth=1.5).encode(x=Xd, y=Yd),
    alt.Chart(pts_df(D_EXP + D_EXP_EXTRA)).mark_circle(color="black", size=15, opacity=1).encode(x=Xd, y=Yd),
    rect_layer(Xd, Yd, -10.97, -3.47, 1.58602, 1.57122, fill_op=1.0, stroke="#8a8a8a", sw=1.2),
    dot_layer(Xd, Yd, -9.77, 1.58303, "black", 14),
    seg_layer(Xd, Yd, -10.46, -9.04, 1.58004, "#444", 1.5),
    seg_layer(Xd, Yd, -10.46, -9.04, 1.57706, RED_D, 1.5),
    seg_layer(Xd, Yd, -10.46, -9.04, 1.57407, BLUE_D, 1.5),
    text_layer(Xd, Yd, [-8.62] * 4, [1.58303, 1.58004, 1.57706, 1.57407],
               ["Experimental", "Simulated", "Fe(II) Illite 35%", "Fe(III)-65%"], 14, weight="normal"),
    text_layer(Xd, Yd, [2.70, 2.70, 2.70], D_NOTE_Y, D_NOTE_T, 26),
    text_layer(Xd, Yd, [TITLES["d"][1]], [TITLES["d"][2]], [TITLES["d"][0]], 32),
).properties(width=CW, height=CH)

chart = alt.concat(pa, pc, pb, pd_, columns=2, spacing=0, bounds="flush", align="all").properties(
    padding=0, background=BG
).configure_view(strokeWidth=0)

chart.save("out.html", embed_options={"renderer": "svg", "actions": False})
